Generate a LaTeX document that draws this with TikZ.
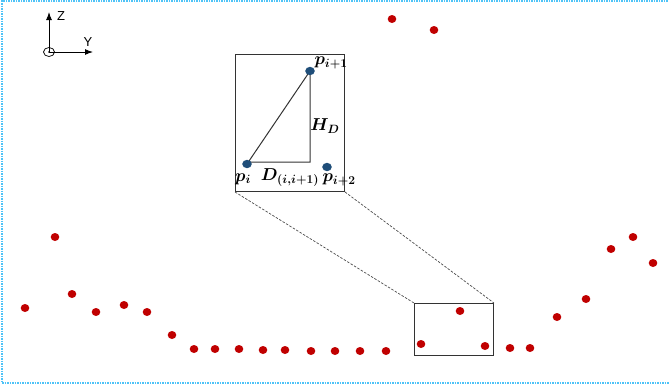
\documentclass[tikz,border=0pt]{standalone}
\usepackage{fontspec}
\usepackage{amsmath}
\usepackage{bm}
\DeclareMathSizes{16}{16}{12}{10}
\newfontfamily\axfont{Liberation Sans}
\usetikzlibrary{arrows.meta}
\definecolor{dotred}{HTML}{C00000}
\definecolor{dotblue}{HTML}{1F4E79}
\definecolor{frameblue}{HTML}{4FC3F7}
\tikzset{
  lab/.style={inner sep=0pt, font=\fontsize{16}{19}\selectfont},
  axlab/.style={inner sep=0pt, font=\axfont\fontsize{13}{15}\selectfont},
  boxline/.style={draw=black!80, line width=1pt},
  zoomline/.style={draw=black!70, line width=0.7pt, dash pattern=on 2.5pt off 1.5pt},
  axisarrow/.style={draw=black, line width=1pt, -{Latex[length=8pt,width=6pt]}}
}
\begin{document}
\begin{tikzpicture}[x={(1pt,0)}, y={(0,-1pt)}]
\useasboundingbox (0,0) rectangle (669,388);
% frame
\draw[frameblue, line width=1.3pt, dash pattern=on 1.5pt off 1pt] (670,1) -- (2,1) -- (2,383) -- (670,383);
% axes
\coordinate (O) at (49,52);
\coordinate (Zend) at (49,12);
\coordinate (Yend) at (93,52);
\draw[axisarrow] (O) -- (Zend);
\draw[axisarrow] (O) -- (Yend);
\draw[black, line width=0.7pt] (O) ellipse [x radius=5.5, y radius=4.5];
\fill (O) circle [radius=0.9];
\node[axlab] (zl) at (61,16) {Z};
\node[axlab] (yl) at (88,42) {Y};
% red points
\foreach \x/\y in {25/308,55/237,72/294,96/312,124/305,147/312,172/335,194/349,215/349,239/349,263/350,285/350,311/351,335/351,360/351,386/351,421/344,460/311,485/346,510/348,530/348,557/317,586/299,611/249,633/237,653/263,392/19,434/30}
  \fill[dotred] (\x,\y) ellipse [x radius=4.3, y radius=4];
% small box
\node[boxline, minimum width=79pt, minimum height=52pt, anchor=north west, inner sep=0pt] (sbox) at (414,303) {};
% inset box
\node[boxline, minimum width=109pt, minimum height=137pt, anchor=north west, inner sep=0pt] (ibox) at (235,54) {};
% zoom lines
\draw[zoomline] (ibox.south west) -- (sbox.north west);
\draw[zoomline] (ibox.south east) -- (sbox.north east);
% triangle
\coordinate (pi) at (247,164);
\coordinate (pj) at (310,71);
\coordinate (pk) at (327,167);
\coordinate (corner) at (310,162);
\draw[black!80, line width=1pt] (pi) -- (pj) -- (corner) -- ([yshift=2pt]pi);
\fill[dotblue] (pi) ellipse [x radius=4.8, y radius=4.2];
\fill[dotblue] (pj) ellipse [x radius=4.8, y radius=4.2];
\fill[dotblue] (pk) ellipse [x radius=4.8, y radius=4.2];
% labels
\node[lab] (lpi) at (243,179) {$\bm{p_i}$};
\node[lab] (lpj) at (331,63) {$\bm{p_{i+1}}$};
\node[lab] (lpk) at (339,180) {$\bm{p_{i+2}}$};
\node[lab] (lhd) at (325,126) {$\bm{H_D}$};
\node[lab] (ld) at (290,178) {$\bm{D_{(i,i+1)}}$};
\end{tikzpicture}
\end{document}
